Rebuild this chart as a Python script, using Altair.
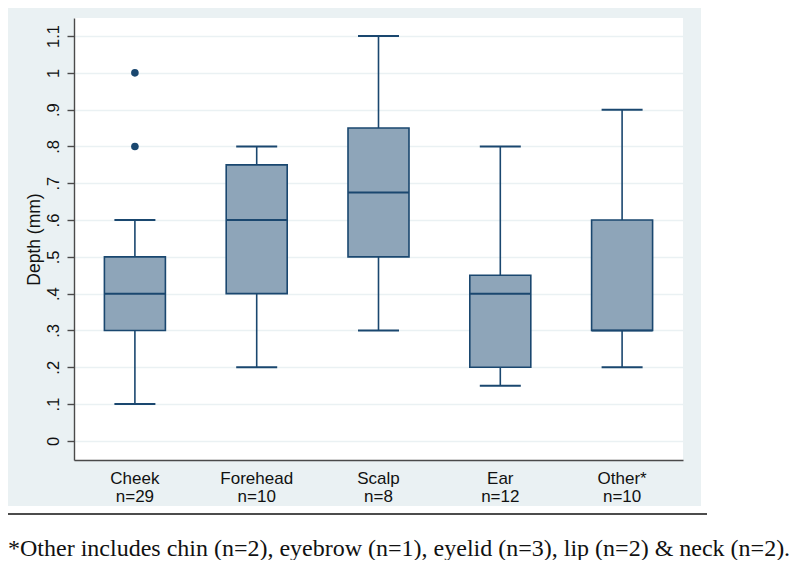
import altair as alt
import pandas as pd

# ---- data ----
categories = ["Cheek", "Forehead", "Scalp", "Ear", "Other*"]
counts = [29, 10, 8, 12, 10]
lower_whisker = [0.1, 0.2, 0.3, 0.15, 0.2]
q1 = [0.3, 0.4, 0.5, 0.2, 0.3]
median = [0.4, 0.6, 0.675, 0.4, 0.3]
q3 = [0.5, 0.75, 0.85, 0.45, 0.6]
upper_whisker = [0.6, 0.8, 1.1, 0.8, 0.9]
outlier_category = ["Cheek", "Cheek"]
outlier_value = [0.8, 1.0]
y_ticks = [0, 0.1, 0.2, 0.3, 0.4, 0.5, 0.6, 0.7, 0.8, 0.9, 1.0, 1.1]
y_title = "Depth (mm)"
footnote = "*Other includes chin (n=2), eyebrow (n=1), eyelid (n=3), lip (n=2) & neck (n=2)."

labels = [f"{c}|n={n}" for c, n in zip(categories, counts)]
label_of = dict(zip(categories, labels))

boxes = pd.DataFrame({
    "label": labels, "lo": lower_whisker, "q1": q1, "med": median,
    "q3": q3, "hi": upper_whisker,
})
outliers = pd.DataFrame({
    "label": [label_of[c] for c in outlier_category], "value": outlier_value,
})
one = pd.DataFrame({"t": [footnote]})

W, H = 609, 442
PAD = {"left": 66, "top": 10, "right": 109, "bottom": 100}

NAVY = "#1a476f"
FILL = "#8ea5b9"
AXIS = "#4a4a4a"
PANEL = "#eaf1f3"
SANS = "Liberation Sans"
SERIF = "Liberation Serif"

x_enc = alt.X(
    "label:N", sort=labels,
    scale=alt.Scale(domain=labels, paddingInner=0, paddingOuter=0),
    axis=alt.Axis(
        title=None, labelExpr="split(datum.label, '|')", ticks=False,
        labelAngle=0, labelFontSize=17, labelLineHeight=18, labelPadding=10,
        labelColor="#111", labelFont=SANS, domainColor=AXIS, domainWidth=1.4,
        grid=False,
    ),
)
y_scale = alt.Scale(domain=[-0.052, 1.149], nice=False, zero=False)
y_axis = alt.Axis(
    title=y_title, values=y_ticks,
    labelExpr="datum.value == 0 ? '0' : (datum.value >= 1 ? format(datum.value, '.1~f') : substring(format(datum.value, '.1f'), 1))",
    labelAngle=-90, labelAlign="center", labelBaseline="bottom",
    labelFontSize=16.5, labelPadding=6, labelColor="#111", labelFont=SANS,
    tickSize=7, tickColor=AXIS, tickWidth=1.4,
    domainColor=AXIS, domainWidth=1.4,
    grid=True, gridColor=PANEL, gridWidth=1.5,
    titleFontSize=17.5, titleFontWeight="normal", titleFont=SANS, titleColor="#111",
    titleAngle=-90, titleX=-40, titleY=H / 2, titleAlign="center", titleBaseline="middle",
)

base = alt.Chart(boxes)

# white areas outside the grey panel
white_bottom = alt.Chart(one).mark_rect(color="white").encode(
    x=alt.value(-66), x2=alt.value(718), y=alt.value(488), y2=alt.value(560))
white_right = alt.Chart(one).mark_rect(color="white").encode(
    x=alt.value(627), x2=alt.value(718), y=alt.value(-10), y2=alt.value(560))
sep_rule = alt.Chart(one).mark_rule(color="#111", strokeWidth=1.6).encode(
    x=alt.value(-66), x2=alt.value(633), y=alt.value(496))
note = alt.Chart(one).mark_text(
    align="left", baseline="alphabetic", font=SERIF, fontSize=24, color="#111"
).encode(x=alt.value(-66), y=alt.value(538), text="t:N")

whiskers = base.mark_rule(color=NAVY, strokeWidth=1.6).encode(
    x=x_enc, y=alt.Y("lo:Q", scale=y_scale, axis=y_axis), y2="hi:Q")
box = base.mark_bar(size=61, fill=FILL, stroke=NAVY, strokeWidth=1.6, opacity=1).encode(
    x=x_enc, y=alt.Y("q1:Q", scale=y_scale, axis=y_axis), y2="q3:Q")
med = base.mark_tick(size=61, thickness=2, color=NAVY, opacity=1).encode(
    x=x_enc, y=alt.Y("med:Q", scale=y_scale, axis=y_axis))
cap_lo = base.mark_tick(size=41, thickness=2, color=NAVY, opacity=1).encode(
    x=x_enc, y=alt.Y("lo:Q", scale=y_scale, axis=y_axis))
cap_hi = base.mark_tick(size=41, thickness=2, color=NAVY, opacity=1).encode(
    x=x_enc, y=alt.Y("hi:Q", scale=y_scale, axis=y_axis))
pts = alt.Chart(outliers).mark_circle(size=58, color=NAVY, opacity=1).encode(
    x=x_enc, y=alt.Y("value:Q", scale=y_scale, axis=y_axis))

chart = alt.layer(
    white_bottom, white_right, sep_rule, note,
    whiskers, box, med, cap_lo, cap_hi, pts,
).properties(
    width=W, height=H, autosize=alt.AutoSizeParams(type="none"), padding=PAD,
    background=PANEL,
).configure_view(stroke=None, fill="white")

chart.save("out.html", embed_options={"renderer": "svg", "actions": False})
